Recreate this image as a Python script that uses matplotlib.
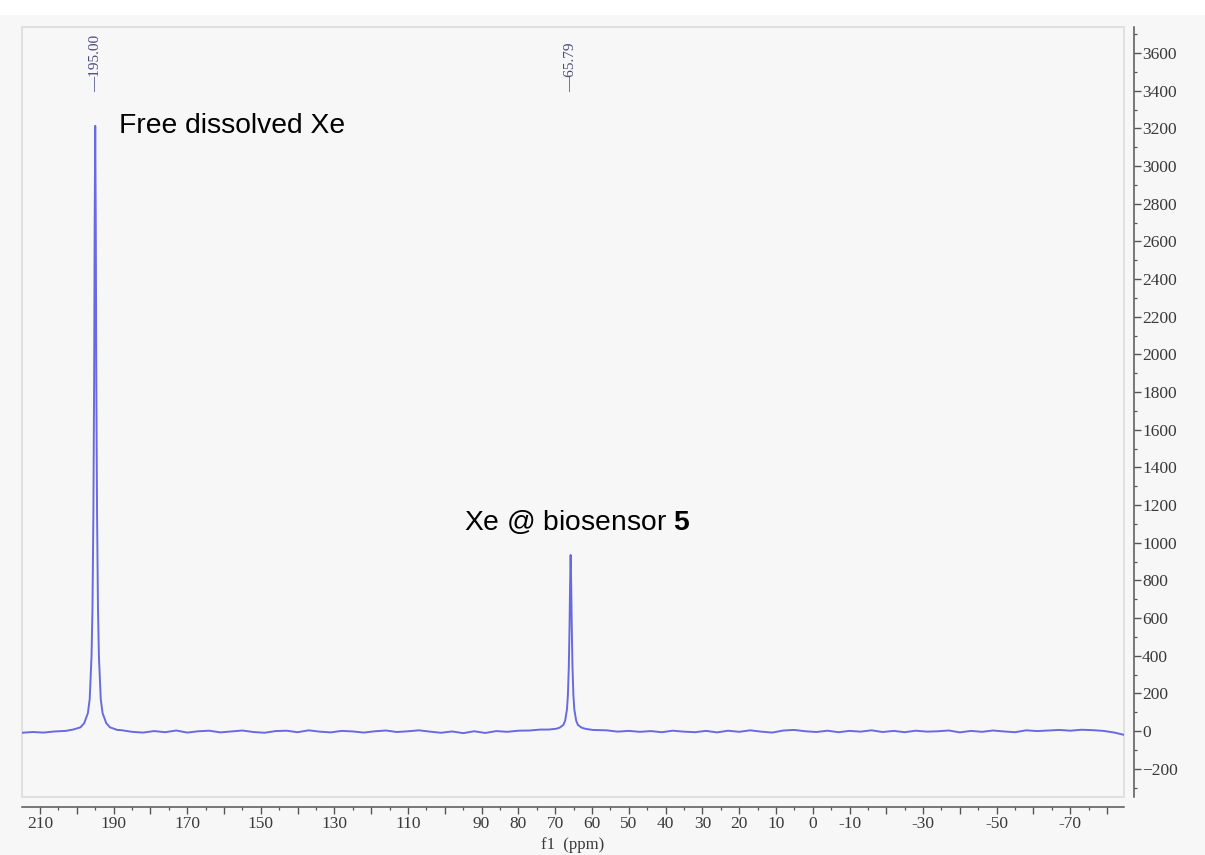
"""129Xe NMR spectrum: free dissolved Xe vs. Xe in biosensor 5."""
import matplotlib

matplotlib.use("Agg")
import matplotlib.pyplot as plt
from matplotlib.patches import Rectangle
from matplotlib.ticker import FixedLocator, MultipleLocator, FixedFormatter

# ---- trace samples ------------------------------------------------------
# baseline (ppm, intensity), away from the two peaks
base_ppm = [215, 212, 209, 206, 203,
            188, 185, 182, 179, 176, 173, 170, 167, 164, 161, 158, 155, 152,
            149, 146, 143, 140, 137, 134, 131, 128, 125, 122, 119, 116, 113,
            110, 107, 104, 101, 98, 95, 92, 89, 86, 83, 80, 77, 74,
            56, 53, 50, 47, 44, 41, 38, 35, 32, 29, 26, 23, 20, 17, 14, 11,
            8, 5, 2, -1, -4, -7, -10, -13, -16, -19, -22, -25, -28, -31, -34,
            -37, -40, -43, -46, -49, -52, -55, -58, -61, -64, -67, -70, -73,
            -76, -79, -82, -85]
base_int = [-9, -5, -8, -2, 1,
            5, -4, -8, 0, -6, 3, -8, -1, 2, -7, -2, 3, -5,
            -9, 0, 2, -6, 4, -3, -7, 1, -2, -8, -1, 3, -5,
            -1, 4, -3, -9, -2, -11, -1, -10, 0, -4, 2, 3, 8,
            4, -3, 1, -4, 0, -6, 2, -3, -6, 1, -7, 2, -4, 4, -3, -8,
            3, 6, -1, -5, 2, -6, 1, -3, 4, -5, 1, -6, 2, -3, -1,
            3, -7, 1, -4, 3, -2, -6, 4, 0, 3, 6, 2, 7,
            5, 1, -8, -22]

# peak shapes: offsets from the peak centre (ppm) and intensities
peak_offsets = [6, 4, 3, 2, 1.5, 1.0, 0.75, 0.5, 0.3, 0.15, 0,
                -0.15, -0.3, -0.5, -0.75, -1.0, -1.5, -2, -3, -4, -6]
free_center = 195.00
free_int = [8, 20, 42, 95, 170, 400, 650, 1150, 1850, 2700, 3213,
            2700, 1850, 1150, 650, 400, 170, 95, 42, 20, 6]
bound_center = 65.79
bound_int = [8, 12, 18, 32, 55, 115, 190, 340, 560, 780, 935,
             780, 560, 340, 190, 115, 55, 32, 18, 12, 6]

x_labeled = [210, 190, 170, 150, 130, 110, 90, 80, 70, 60, 50, 40, 30,
             20, 10, 0, -10, -30, -50, -70]

BLUE = "#6a6ae0"
BG = "#f7f7f7"
INK = "#3a3a3a"


def build_trace():
    pts = list(zip(base_ppm, base_int))
    pts += [(free_center + o, v) for o, v in zip(peak_offsets, free_int)]
    pts += [(bound_center + o, v) for o, v in zip(peak_offsets, bound_int)]
    pts.sort(key=lambda p: -p[0])
    return [p[0] for p in pts], [p[1] for p in pts]


def main() -> None:
    plt.rcParams["mathtext.fontset"] = "custom"
    plt.rcParams["mathtext.rm"] = "Liberation Sans"
    plt.rcParams["mathtext.bf"] = "Liberation Sans:bold"

    fig = plt.figure(figsize=(12.05, 8.55), dpi=100, facecolor=BG)
    fig.patches.append(Rectangle((0, 1 - 15 / 855), 1, 15 / 855,
                                 transform=fig.transFigure,
                                 facecolor="white", edgecolor="none"))
    ax = fig.add_axes([22 / 1205, 1 - 797 / 855, 1102 / 1205, 770 / 855])
    ax.set_facecolor(BG)

    ppm, inten = build_trace()
    ax.plot(ppm, inten, color=BLUE, lw=1.4, solid_joinstyle="round")

    ax.set_xlim(214.9, -84.6)
    ax.set_ylim(-350, 3738)

    # light frame round the plot area, axes pushed outward
    ax.add_patch(Rectangle((0, 0), 1, 1, transform=ax.transAxes,
                           facecolor="none", edgecolor="#e0e0e0", lw=1.5,
                           clip_on=False, zorder=0))
    for side in ("top", "left"):
        ax.spines[side].set_visible(False)
    for side in ("bottom", "right"):
        ax.spines[side].set_position(("outward", 7))
        ax.spines[side].set_color("#555555")
        ax.spines[side].set_linewidth(1.1)

    # x axis: major every 10, only some labelled
    majors = list(range(210, -81, -10))
    ax.xaxis.set_major_locator(FixedLocator(majors))
    ax.xaxis.set_major_formatter(FixedFormatter(
        [str(v) if v in x_labeled else "" for v in majors]))
    ax.xaxis.set_minor_locator(MultipleLocator(5))
    ax.tick_params(axis="x", which="major", direction="out", length=5,
                   width=1.0, color="#555555", pad=2)
    ax.tick_params(axis="x", which="minor", direction="out", length=2.5,
                   width=0.9, color="#555555")
    ax.set_xlabel("f1  (ppm)", fontfamily="Liberation Serif", fontsize=12,
                  color=INK, labelpad=3)

    # y axis on the right
    ax.yaxis.tick_right()
    ax.yaxis.set_major_locator(MultipleLocator(200))
    ax.yaxis.set_minor_locator(MultipleLocator(100))
    ax.tick_params(axis="y", which="major", direction="out", length=5,
                   width=1.0, color="#555555", pad=1)
    ax.tick_params(axis="y", which="minor", direction="out", length=2.5,
                   width=0.9, color="#555555")
    ax.yaxis.set_major_formatter(matplotlib.ticker.FuncFormatter(
        lambda v, _: f"{v:.0f}".replace("-", "\u2212")))

    for lab in ax.get_xticklabels() + ax.get_yticklabels():
        lab.set_fontfamily("Liberation Serif")
        lab.set_fontsize(12.5)
        lab.set_color(INK)

    # peak picking labels
    for c in (free_center, bound_center):
        ax.text(c, 3393, f"\u2014{c:.2f}", rotation=90, ha="center",
                va="bottom", fontfamily="Liberation Serif", fontsize=11,
                color="#4a4a80")

    ax.text(188.5, 3176, "Free dissolved Xe", fontfamily="Liberation Sans",
            fontsize=20.3, va="baseline", ha="left")
    ax.text(94.8, 1067, r"Xe @ biosensor $\mathbf{5}$",
            fontfamily="Liberation Sans", fontsize=20.3, va="baseline",
            ha="left")

    fig.savefig("out.png", dpi=100, facecolor=BG)


if __name__ == "__main__":
    main()
